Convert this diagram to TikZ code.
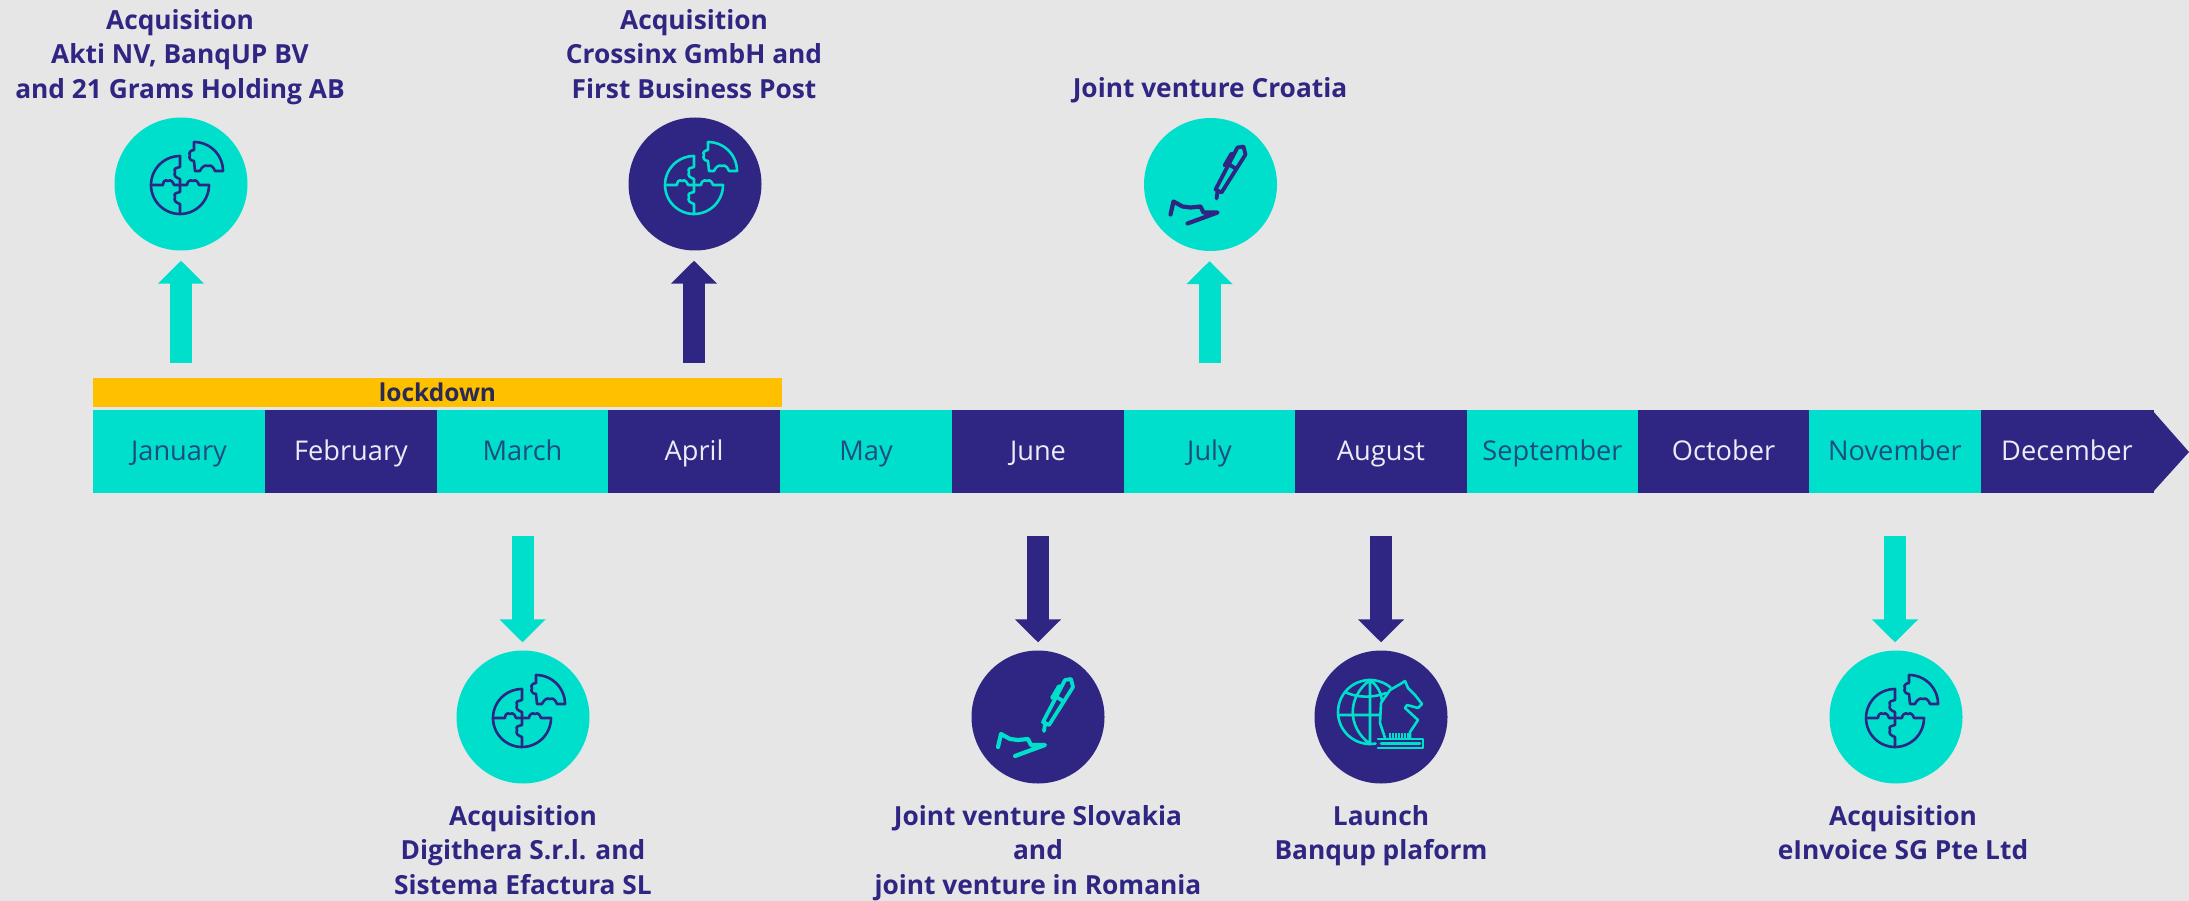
\documentclass[tikz,border=0pt]{standalone}
\usepackage{fontspec}
\setmainfont{Open Sans}
\usetikzlibrary{arrows.meta}
\definecolor{bgc}{HTML}{E6E6E6}
\definecolor{teal}{HTML}{00DFCC}
\definecolor{navy}{HTML}{2E2682}
\definecolor{amber}{HTML}{FFC000}
\definecolor{monthdark}{HTML}{1F4C80}
\definecolor{monthlight}{HTML}{ECECF8}
\definecolor{lockc}{HTML}{2A2A55}
\tikzset{
  x=1pt,y=-1pt,
  cell/.style={rectangle,inner sep=0pt,minimum height=83,text height=23pt,text depth=6pt,font=\fontsize{27.2}{30}\selectfont},
  tealcell/.style={cell,fill=teal,text=monthdark},
  navycell/.style={cell,fill=navy,text=monthlight},
  disc/.style={circle,inner sep=0pt,minimum size=133},
  tealdisc/.style={disc,fill=teal},
  navydisc/.style={disc,fill=navy},
  lbl/.style={align=center,text=navy,inner sep=0pt,anchor=north,
    font=\fontsize{26.3}{34.5}\selectfont\bfseries},
  blockarrow/.style={line width=22pt,-{Triangle[length=23pt,width=45pt]}},
  icon/.style={line width=2.6pt,line join=round,line cap=round},
  puzzle/.pic={
    \path[pic actions,icon,fill=none]
      plot[domain=270:0,samples=45] ({-1+29*cos(\x)},{1+29*sin(\x)});
    \path[pic actions,icon,fill=none] (-1,-28) -- (-1,-17)
      .. controls (-4,-16) and (-8,-16) .. (-6,-12)
      .. controls (-8,-8) and (-4,-6) .. (-1,-5) -- (-1,8)
      .. controls (-4,9) and (-8,9) .. (-6,13)
      .. controls (-8,17) and (-4,19) .. (-1,20) -- (-1,30);
    \path[pic actions,icon,fill=none] (-30,1) -- (-18,1)
      .. controls (-18,-2) and (-16,-5) .. (-13,-3)
      .. controls (-10,-5) and (-8,-2) .. (-7,1) -- (6,1)
      .. controls (6,-2) and (9,-5) .. (12,-3)
      .. controls (15,-5) and (17,-2) .. (18,1) -- (28,1);
    \path[pic actions,icon,fill=none] (13,-42)
      -- plot[domain=270:360,samples=20] ({13+29*cos(\x)},{-13+29*sin(\x)})
      -- (34,-13) .. controls (33,-16) and (30,-20) .. (27,-18)
      .. controls (24,-20) and (20,-16) .. (19,-13)
      -- (14,-13) -- (13,-23)
      .. controls (10,-23) and (7,-26) .. (9,-29)
      .. controls (7,-31) and (10,-34) .. (13,-34) -- cycle;
  },
  pen/.pic={
    \path[pic actions,line width=3.8pt,line join=round,line cap=round,fill=none]
      (5,5) -- (11,8) -- (35,-30) -- (33,-38) -- (27,-37) -- cycle
      (7,7) -- (6,14)
      (17,-21) -- (25,-16)
      (14,-19) -- (21,-31);
    \path[pic actions,line width=4.2pt,line join=round,line cap=round,fill=none]
      (-40,30) -- (-37,17) -- (-28,22) -- (-20,23) -- (-10,22) -- (-7,28) -- (7,28) -- (-23,39);
  },
  knight/.pic={
    \path[pic actions,icon,fill=none]
      plot[domain=310:80,samples=50] ({-11+32*cos(\x)},{-5+32*sin(\x)});
    \path[pic actions,icon,fill=none]
      (-11,-37) -- (-11,27)
      (-11,-37) .. controls (-34,-20) and (-34,10) .. (-11,27)
      (-11,-37) .. controls (-3,-31) and (0,-24) .. (1,-16)
      (-43,-2) -- (-1,-2)
      (-36,-25) .. controls (-24,-19) and (-8,-19) .. (5,-24);
    \path[pic actions,icon,fill=none]
      (4,21) -- (-1,6) -- (0,-14) -- (9,-27) -- (21,-34) -- (24,-36) -- (27,-29)
      -- (34,-22) -- (41,-13) -- (37,-9) -- (26,-12) -- (24,-9) -- (37,3) -- (29,15) -- (29,21);
    \path[pic actions,icon,fill=none]
      (-3,22) -- (42,22) -- (42,31) -- (-3,31)
      (0,26.5) -- (39,26.5);
    \path[pic actions,line width=1.6pt,fill=none]
      (9,16) -- (9,22) (12,16) -- (12,22) (15,16) -- (15,22)
      (18,16) -- (18,22) (21,16) -- (21,22) (24,16) -- (24,22) (27,16) -- (27,22);
  },
}
\begin{document}
\begin{tikzpicture}
\fill[bgc] (0,0) rectangle (2189,901);
\useasboundingbox (0,0) rectangle (2189,901);
% timeline tip
\fill[navy] (2152,410) -- (2189,452) -- (2152,493) -- cycle;
% months
\node[tealcell,minimum width=173] (jan) at (179,451.5) {January};
\node[navycell,minimum width=172] (feb) at (351,451.5) {February};
\node[tealcell,minimum width=171] (mar) at (522.5,451.5) {March};
\node[navycell,minimum width=173] (apr) at (694,451.5) {April};
\node[tealcell,minimum width=172] (may) at (866,451.5) {May};
\node[navycell,minimum width=172] (jun) at (1038,451.5) {June};
\node[tealcell,minimum width=171] (jul) at (1209.5,451.5) {July};
\node[navycell,minimum width=172] (aug) at (1381,451.5) {August};
\node[tealcell,minimum width=171] (sep) at (1552.5,451.5) {September};
\node[navycell,minimum width=171] (oct) at (1723.5,451.5) {October};
\node[tealcell,minimum width=172] (nov) at (1895,451.5) {November};
\node[navycell,minimum width=173] (dec) at (2067,451.5) {December};
% lockdown
\node[rectangle,fill=amber,inner sep=0pt,minimum width=689,minimum height=29,text=lockc,
  font=\fontsize{24.5}{28}\selectfont\bfseries] (lock) at (437.5,392.5) {lockdown};
% discs
\node[tealdisc] (d1) at (181,184) {};
\node[navydisc] (d2) at (695,184) {};
\node[tealdisc] (d3) at (1210.5,184.5) {};
\node[tealdisc] (d4) at (523,717) {};
\node[navydisc] (d5) at (1038,717) {};
\node[navydisc] (d6) at (1381,717) {};
\node[tealdisc] (d7) at (1896,717) {};
% icons
\pic[draw=navy] at (d1) {puzzle};
\pic[draw=teal] at (d2) {puzzle};
\pic[draw=navy] at (d3) {pen};
\pic[draw=navy] at (d4) {puzzle};
\pic[draw=teal] at (d5) {pen};
\pic[draw=teal] at (d6) {knight};
\pic[draw=navy] at (d7) {puzzle};
% arrows
\draw[blockarrow,teal,shorten <=47pt,shorten >=10pt] (d1.south |- jan.north) -- (d1.south);
\draw[blockarrow,navy,shorten <=47pt,shorten >=10pt] (apr.north) -- (apr.north |- d2.south);
\draw[blockarrow,teal,shorten <=47pt,shorten >=10pt] (jul.north) -- (jul.north |- d3.south);
\draw[blockarrow,teal,shorten <=43pt,shorten >=8pt] (mar.south) -- (mar.south |- d4.north);
\draw[blockarrow,navy,shorten <=43pt,shorten >=8pt] (jun.south) -- (jun.south |- d5.north);
\draw[blockarrow,navy,shorten <=43pt,shorten >=8pt] (aug.south) -- (aug.south |- d6.north);
\draw[blockarrow,teal,shorten <=43pt,shorten >=8pt] (nov.south) -- (nov.south |- d7.north);
% labels
\node[lbl] (t1) at (180,9) {Acquisition\\Akti NV, BanqUP BV\\and 21 Grams Holding AB};
\node[lbl] (t2) at (694,9) {Acquisition\\Crossinx GmbH and\\First Business Post};
\node[lbl] (t3) at (1210,77) {Joint venture Croatia};
\node[lbl] (t4) at (523,805) {Acquisition\\Digithera S.r.l. and\\Sistema Efactura SL};
\node[lbl] (t5) at (1038,805) {Joint venture Slovakia\\and\\joint venture in Romania};
\node[lbl] (t6) at (1381,805) {Launch\\Banqup plaform};
\node[lbl] (t7) at (1903,805) {Acquisition\\eInvoice SG Pte Ltd};
\end{tikzpicture}
\end{document}
